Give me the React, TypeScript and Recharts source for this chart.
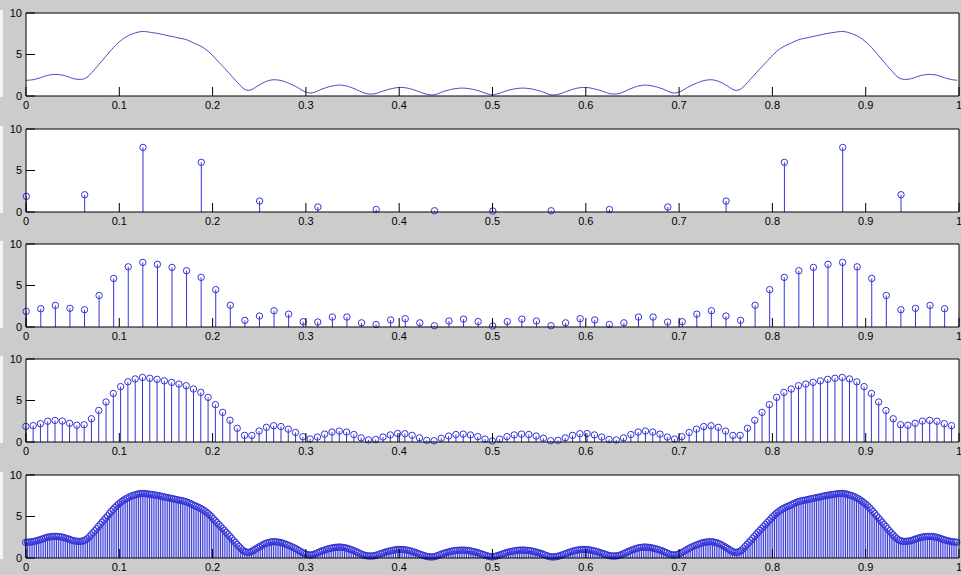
import React from 'react';
import { ComposedChart, Bar, Line, XAxis, YAxis, CartesianGrid } from 'recharts';

// normalised frequency ticks and magnitude ticks
const freqTicks = [0, 0.1, 0.2, 0.3, 0.4, 0.5, 0.6, 0.7, 0.8, 0.9, 1];
const magTicks = [0, 5, 10];

// |X(k)| sampled at N = 16
const spec16 = [1.88, 2.08, 7.78, 5.98, 1.32, 0.6, 0.3, 0.15, 0.12, 0.15, 0.3, 0.6, 1.32, 5.98, 7.78, 2.08];

// N = 64
const spec64 = [
    1.88, 2.2, 2.6, 2.25, 2.08, 3.8, 5.85, 7.25, 7.78, 7.55, 7.18, 6.78, 5.98, 4.5, 2.62, 0.8,
    1.32, 1.96, 1.55, 0.64, 0.6, 1.2, 1.2, 0.5, 0.3, 0.85, 1.0, 0.5, 0.15, 0.72, 0.95, 0.65,
    0.12, 0.65, 0.95, 0.72, 0.15, 0.5, 1.0, 0.85, 0.3, 0.5, 1.2, 1.2, 0.6, 0.64, 1.55, 1.96,
    1.32, 0.8, 2.62, 4.5, 5.98, 6.78, 7.18, 7.55, 7.78, 7.25, 5.85, 3.8, 2.08, 2.25, 2.6, 2.2
];

// N = 128
const spec128 = [
    1.88, 1.97, 2.2, 2.5, 2.6, 2.52, 2.25, 2.02, 2.08, 2.8, 3.8, 4.82, 5.85, 6.67, 7.25, 7.6,
    7.78, 7.68, 7.55, 7.36, 7.18, 6.98, 6.78, 6.38, 5.98, 5.38, 4.5, 3.57, 2.62, 1.65, 0.8, 0.78,
    1.32, 1.77, 1.96, 1.86, 1.55, 1.15, 0.64, 0.36, 0.6, 0.95, 1.2, 1.32, 1.2, 0.9, 0.5, 0.25,
    0.3, 0.6, 0.85, 1.02, 1.0, 0.8, 0.5, 0.2, 0.15, 0.45, 0.72, 0.9, 0.95, 0.85, 0.65, 0.35,
    0.12, 0.35, 0.65, 0.85, 0.95, 0.9, 0.72, 0.45, 0.15, 0.2, 0.5, 0.8, 1.0, 1.02, 0.85, 0.6,
    0.3, 0.25, 0.5, 0.9, 1.2, 1.32, 1.2, 0.95, 0.6, 0.36, 0.64, 1.15, 1.55, 1.86, 1.96, 1.77,
    1.32, 0.78, 0.8, 1.65, 2.62, 3.57, 4.5, 5.38, 5.98, 6.38, 6.78, 6.98, 7.18, 7.36, 7.55, 7.68,
    7.78, 7.6, 7.25, 6.67, 5.85, 4.82, 3.8, 2.8, 2.08, 2.02, 2.25, 2.52, 2.6, 2.5, 2.2, 1.97
];

// N = 512 (also used for the continuous curve on top)
const spec512 = [
    1.88, 1.9, 1.92, 1.94, 1.97, 2.02, 2.08, 2.14, 2.2, 2.28, 2.36, 2.43, 2.5, 2.54, 2.57, 2.59,
    2.6, 2.6, 2.58, 2.55, 2.52, 2.46, 2.4, 2.32, 2.25, 2.17, 2.1, 2.05, 2.02, 2.0, 2.0, 2.03,
    2.08, 2.2, 2.35, 2.56, 2.8, 3.04, 3.28, 3.54, 3.8, 4.06, 4.32, 4.57, 4.82, 5.08, 5.35, 5.6,
    5.85, 6.08, 6.3, 6.49, 6.67, 6.84, 7.0, 7.13, 7.25, 7.36, 7.45, 7.53, 7.6, 7.67, 7.72, 7.76,
    7.78, 7.77, 7.75, 7.72, 7.68, 7.65, 7.62, 7.59, 7.55, 7.51, 7.46, 7.41, 7.36, 7.31, 7.27, 7.22,
    7.18, 7.13, 7.08, 7.03, 6.98, 6.94, 6.9, 6.84, 6.78, 6.7, 6.6, 6.5, 6.38, 6.29, 6.2, 6.1,
    5.98, 5.86, 5.72, 5.56, 5.38, 5.18, 4.97, 4.74, 4.5, 4.27, 4.03, 3.8, 3.57, 3.34, 3.1, 2.86,
    2.62, 2.37, 2.12, 1.88, 1.65, 1.4, 1.18, 0.97, 0.8, 0.72, 0.68, 0.7, 0.78, 0.9, 1.05, 1.19,
    1.32, 1.45, 1.57, 1.68, 1.77, 1.84, 1.9, 1.94, 1.96, 1.95, 1.93, 1.9, 1.86, 1.8, 1.72, 1.64,
    1.55, 1.46, 1.36, 1.26, 1.15, 1.03, 0.9, 0.77, 0.64, 0.53, 0.45, 0.39, 0.36, 0.37, 0.42, 0.5,
    0.6, 0.7, 0.8, 0.88, 0.95, 1.03, 1.1, 1.15, 1.2, 1.24, 1.28, 1.3, 1.32, 1.31, 1.28, 1.25,
    1.2, 1.14, 1.06, 0.98, 0.9, 0.8, 0.7, 0.6, 0.5, 0.41, 0.33, 0.28, 0.25, 0.24, 0.24, 0.26,
    0.3, 0.37, 0.45, 0.52, 0.6, 0.67, 0.74, 0.8, 0.85, 0.9, 0.95, 0.99, 1.02, 1.03, 1.03, 1.02,
    1.0, 0.96, 0.92, 0.86, 0.8, 0.73, 0.66, 0.58, 0.5, 0.41, 0.33, 0.26, 0.2, 0.16, 0.13, 0.13,
    0.15, 0.2, 0.28, 0.36, 0.45, 0.53, 0.6, 0.66, 0.72, 0.78, 0.83, 0.87, 0.9, 0.92, 0.94, 0.95,
    0.95, 0.94, 0.92, 0.89, 0.85, 0.81, 0.76, 0.71, 0.65, 0.58, 0.5, 0.43, 0.35, 0.28, 0.22, 0.17,
    0.12,
    0.17, 0.22, 0.28, 0.35, 0.43, 0.5, 0.58, 0.65, 0.71, 0.76, 0.81, 0.85, 0.89, 0.92, 0.94, 0.95,
    0.95, 0.94, 0.92, 0.9, 0.87, 0.83, 0.78, 0.72, 0.66, 0.6, 0.53, 0.45, 0.36, 0.28, 0.2, 0.15,
    0.13, 0.13, 0.16, 0.2, 0.26, 0.33, 0.41, 0.5, 0.58, 0.66, 0.73, 0.8, 0.86, 0.92, 0.96, 1.0,
    1.02, 1.03, 1.03, 1.02, 0.99, 0.95, 0.9, 0.85, 0.8, 0.74, 0.67, 0.6, 0.52, 0.45, 0.37, 0.3,
    0.26, 0.24, 0.24, 0.25, 0.28, 0.33, 0.41, 0.5, 0.6, 0.7, 0.8, 0.9, 0.98, 1.06, 1.14, 1.2,
    1.25, 1.28, 1.31, 1.32, 1.3, 1.28, 1.24, 1.2, 1.15, 1.1, 1.03, 0.95, 0.88, 0.8, 0.7, 0.6,
    0.5, 0.42, 0.37, 0.36, 0.39, 0.45, 0.53, 0.64, 0.77, 0.9, 1.03, 1.15, 1.26, 1.36, 1.46, 1.55,
    1.64, 1.72, 1.8, 1.86, 1.9, 1.93, 1.95, 1.96, 1.94, 1.9, 1.84, 1.77, 1.68, 1.57, 1.45, 1.32,
    1.19, 1.05, 0.9, 0.78, 0.7, 0.68, 0.72, 0.8, 0.97, 1.18, 1.4, 1.65, 1.88, 2.12, 2.37, 2.62,
    2.86, 3.1, 3.34, 3.57, 3.8, 4.03, 4.27, 4.5, 4.74, 4.97, 5.18, 5.38, 5.56, 5.72, 5.86, 5.98,
    6.1, 6.2, 6.29, 6.38, 6.5, 6.6, 6.7, 6.78, 6.84, 6.9, 6.94, 6.98, 7.03, 7.08, 7.13, 7.18,
    7.22, 7.27, 7.31, 7.36, 7.41, 7.46, 7.51, 7.55, 7.59, 7.62, 7.65, 7.68, 7.72, 7.75, 7.77, 7.78,
    7.76, 7.72, 7.67, 7.6, 7.53, 7.45, 7.36, 7.25, 7.13, 7.0, 6.84, 6.67, 6.49, 6.3, 6.08, 5.85,
    5.6, 5.35, 5.08, 4.82, 4.57, 4.32, 4.06, 3.8, 3.54, 3.28, 3.04, 2.8, 2.56, 2.35, 2.2, 2.08,
    2.03, 2.0, 2.0, 2.02, 2.05, 2.1, 2.17, 2.25, 2.32, 2.4, 2.46, 2.52, 2.55, 2.58, 2.6, 2.6,
    2.59, 2.57, 2.54, 2.5, 2.43, 2.36, 2.28, 2.2, 2.14, 2.08, 2.02, 1.97, 1.94, 1.92, 1.9
];

const toRows = (vals: number[]) => vals.map((v, k) => ({ f: k / vals.length, v }));

const BLUE = '#3434d8';
const LINE_BLUE = '#4646c4';
const FONT = '"Liberation Sans", Arial, sans-serif';

// stem = vertical line from the baseline + open circle on top
const Stem = (props: any) => {
    const { x, y, width, height } = props;
    if (x == null || y == null) return null;
    const cx = x + width / 2;
    return (
        <g>
            <line x1={cx} y1={y} x2={cx} y2={y + height} stroke={BLUE} strokeWidth={1} />
            <circle cx={cx} cy={y} r={3.2} fill="none" stroke={BLUE} strokeWidth={1} />
        </g>
    );
};

interface PanelProps {
    vals: number[];
    kind: 'line' | 'stem';
    top: number;
}

const Panel: React.FC<PanelProps> = ({ vals, kind, top }) => {
    const rows = toRows(vals);
    return (
        <div style={{ position: 'absolute', left: 0, top }}>
            {/* bit of the window behind, peeking in on the left */}
            <div style={{ position: 'absolute', left: 0, top: 10, width: 3, height: 87, background: '#f4f4f4' }} />
            <ComposedChart
                width={961}
                height={116}
                data={rows}
                margin={{ top: 12, right: 1, bottom: 0, left: 0 }}
            >
                <CartesianGrid fill="#ffffff" stroke="none" horizontal={false} vertical={false} />
                <XAxis
                    dataKey="f"
                    type="number"
                    domain={[0, 1]}
                    ticks={freqTicks}
                    interval={0}
                    height={20}
                    tickSize={-9}
                    tickMargin={14}
                    stroke="#000"
                    tick={{ fill: '#000', fontSize: 11, fontFamily: FONT }}
                    tickFormatter={(value) => String(value)}
                />
                <XAxis
                    xAxisId="top"
                    orientation="top"
                    dataKey="f"
                    type="number"
                    domain={[0, 1]}
                    ticks={freqTicks}
                    interval={0}
                    height={1}
                    tickSize={-9}
                    stroke="#000"
                    tick={false}
                />
                <YAxis
                    type="number"
                    domain={[0, 10]}
                    ticks={magTicks}
                    interval={0}
                    width={26}
                    tickSize={-9}
                    tickMargin={13}
                    stroke="#000"
                    tick={{ fill: '#000', fontSize: 11, fontFamily: FONT }}
                />
                <YAxis
                    yAxisId="right"
                    orientation="right"
                    type="number"
                    domain={[0, 10]}
                    ticks={magTicks}
                    interval={0}
                    width={1}
                    tickSize={-9}
                    stroke="#000"
                    tick={false}
                />
                {kind === 'line' ? (
                    <Line
                        dataKey="v"
                        type="monotone"
                        stroke={LINE_BLUE}
                        strokeWidth={1}
                        dot={false}
                        isAnimationActive={false}
                    />
                ) : (
                    <Bar dataKey="v" barSize={1} shape={<Stem />} isAnimationActive={false} />
                )}
            </ComposedChart>
        </div>
    );
};

const App = () => {
    return (
        <div
            style={{
                position: 'absolute',
                left: 0,
                top: 0,
                width: 961,
                height: 575,
                background: '#cccccc',
                overflow: 'hidden'
            }}
        >
            <Panel vals={spec512} kind="line" top={0} />
            <Panel vals={spec16} kind="stem" top={116} />
            <Panel vals={spec64} kind="stem" top={231} />
            <Panel vals={spec128} kind="stem" top={346} />
            <Panel vals={spec512} kind="stem" top={462} />
        </div>
    );
};

export default App;
